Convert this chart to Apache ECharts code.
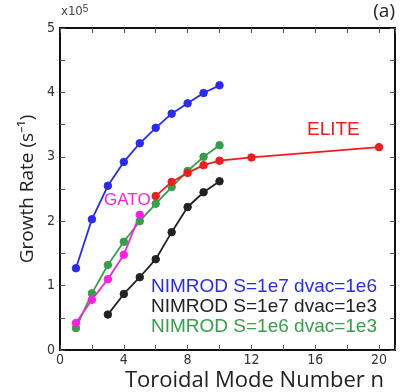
<!DOCTYPE html>
<html>
<head>
<meta charset="utf-8">
<script src="https://cdn.jsdelivr.net/npm/echarts@6/dist/echarts.min.js"></script>
<style>
  html, body { margin: 0; padding: 0; background: #fff; }
  #chart { width: 401px; height: 392px; }
</style>
</head>
<body>
<div id="chart"></div>
<script>
// growth rates in units of 1e5 s^-1
const nimrodN = [1, 2, 3, 4, 5, 6, 7, 8, 9, 10]
const nimrodS7Dvac6 = [1.27, 2.03, 2.55, 2.92, 3.21, 3.45, 3.67, 3.83, 3.99, 4.11]
const nimrodS7Dvac3N = [3, 4, 5, 6, 7, 8, 9, 10]
const nimrodS7Dvac3 = [0.55, 0.87, 1.13, 1.41, 1.83, 2.22, 2.45, 2.62]
const nimrodS6Dvac3 = [0.34, 0.88, 1.32, 1.68, 2.0, 2.27, 2.53, 2.78, 3.0, 3.18]
const eliteN = [6, 7, 8, 9, 10, 12, 20]
const elite = [2.39, 2.61, 2.75, 2.87, 2.94, 2.99, 3.15]
const gatoN = [1, 2, 3, 4, 5]
const gato = [0.42, 0.78, 1.1, 1.48, 2.1]

const colors = {
  blue: '#2a2af5',
  black: '#222222',
  green: '#35a04a',
  red: '#f21c1c',
  magenta: '#ff1fe0'
}

function pairs(xs, ys) {
  return xs.map((x, i) => [x, ys[i]])
}

function lineSeries(name, xs, ys, color) {
  return {
    name: name,
    type: 'line',
    data: pairs(xs, ys),
    symbol: 'circle',
    symbolSize: 7.5,
    lineStyle: { color: color, width: 1.8 },
    itemStyle: { color: color, borderColor: color, borderWidth: 1, opacity: 1 },
    emphasis: { disabled: true },
    animation: false
  }
}

function frameLine() {
  return { show: true, onZero: false, lineStyle: { color: '#111', width: 2 } }
}
function innerTick() {
  return { show: true, inside: true, length: 5, lineStyle: { color: '#555', width: 1 } }
}
const labelFont = { color: '#333', fontFamily: 'DejaVu Sans Condensed, DejaVu Sans', fontSize: 14 }

const chart = echarts.init(document.getElementById('chart'))
chart.setOption({
  backgroundColor: '#fff',
  grid: {
    left: 60, right: 6, top: 28, bottom: 42, outerBoundsMode: 'none',
    show: true, borderColor: '#111', borderWidth: 2
  },
  xAxis: [
    {
      type: 'value', min: 0, max: 21, interval: 2,
      axisLine: frameLine(), axisTick: innerTick(), splitLine: { show: false },
      axisLabel: Object.assign({ margin: 3, formatter: (v) => (v % 4 === 0 ? String(v) : '') }, labelFont),
      name: 'Toroidal Mode Number n', nameLocation: 'middle', nameGap: 20, nameMoveOverlap: false,
      nameTextStyle: {
        fontFamily: 'Open Sans', fontSize: 22, color: '#222',
        verticalAlign: 'top', padding: [0, 0, 0, 54]
      }
    },
    {
      type: 'value', position: 'top', min: 0, max: 21, interval: 2,
      axisLine: frameLine(), axisTick: innerTick(), axisLabel: { show: false }, splitLine: { show: false }
    }
  ],
  yAxis: [
    {
      type: 'value', min: 0, max: 5, interval: 0.5,
      axisLine: frameLine(), axisTick: innerTick(), splitLine: { show: false },
      axisLabel: Object.assign({ margin: 5, formatter: (v) => (v % 1 === 0 ? String(v) : '') }, labelFont),
      name: 'Growth Rate (s⁻¹)', nameLocation: 'middle', nameGap: 23, nameMoveOverlap: false,
      nameTextStyle: { fontFamily: 'Open Sans', fontSize: 19, color: '#222' }
    },
    {
      type: 'value', position: 'right', min: 0, max: 5, interval: 0.5,
      axisLine: frameLine(), axisTick: innerTick(), axisLabel: { show: false }, splitLine: { show: false }
    }
  ],
  series: [
    lineSeries('NIMROD S=1e7 dvac=1e6', nimrodN, nimrodS7Dvac6, colors.blue),
    lineSeries('NIMROD S=1e7 dvac=1e3', nimrodS7Dvac3N, nimrodS7Dvac3, colors.black),
    lineSeries('NIMROD S=1e6 dvac=1e3', nimrodN, nimrodS6Dvac3, colors.green),
    lineSeries('ELITE', eliteN, elite, colors.red),
    lineSeries('GATO', gatoN, gato, colors.magenta)
  ],
  graphic: [
    {
      type: 'text', left: 61, top: 4,
      style: {
        text: 'x10{sup|5}', fill: '#444', font: '13px DejaVu Sans Condensed',
        rich: { sup: { fontSize: 10, verticalAlign: 'top', padding: [0, 0, 6, 0] } }
      }
    },
    { type: 'text', right: 6, top: 2, style: { text: '(a)', fill: '#222', font: '19px Open Sans' } },
    { type: 'text', left: 307, top: 120, style: { text: 'ELITE', fill: colors.red, font: '19px Liberation Sans' } },
    { type: 'text', left: 104, top: 192, style: { text: 'GATO', fill: colors.magenta, font: '17px Liberation Sans' } },
    { type: 'text', left: 151, top: 277, style: { text: 'NIMROD S=1e7 dvac=1e6', fill: colors.blue, font: '19px Liberation Sans' } },
    { type: 'text', left: 151, top: 297, style: { text: 'NIMROD S=1e7 dvac=1e3', fill: colors.black, font: '19px Liberation Sans' } },
    { type: 'text', left: 151, top: 317, style: { text: 'NIMROD S=1e6 dvac=1e3', fill: colors.green, font: '19px Liberation Sans' } }
  ]
})
</script>
</body>
</html>
